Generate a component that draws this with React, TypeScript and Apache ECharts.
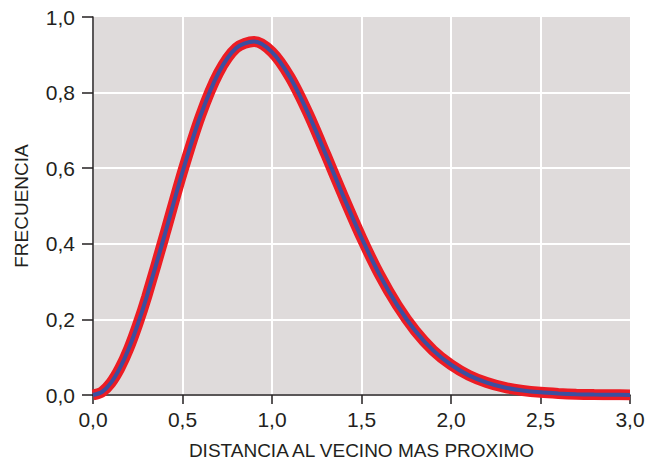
import React, { useEffect, useRef } from "react";
import * as echarts from "echarts";

const xValues = [
  0.0, 0.05, 0.1, 0.15, 0.2, 0.25, 0.3, 0.4, 0.5, 0.6, 0.7, 0.8, 0.9, 1.0,
  1.1, 1.2, 1.3, 1.4, 1.5, 1.6, 1.7, 1.8, 1.9, 2.0,
  2.1, 2.2, 2.3, 2.4, 2.5, 2.6, 2.7, 2.8, 2.9, 3.0,
];
const frecuencia = [
  0.0, 0.008, 0.032, 0.071, 0.123, 0.187, 0.26, 0.423, 0.59, 0.738, 0.851, 0.918, 0.935, 0.907,
  0.841, 0.747, 0.637, 0.524, 0.416, 0.319, 0.237, 0.17, 0.118, 0.08,
  0.052, 0.033, 0.02, 0.012, 0.007, 0.004, 0.002, 0.001, 0.0005, 0.0003,
];
const xTicks = ["0,0", "0,5", "1,0", "1,5", "2,0", "2,5", "3,0"];
const yTicks = ["0,0", "0,2", "0,4", "0,6", "0,8", "1,0"];

const FONT = "'Liberation Sans', Arial, Helvetica, sans-serif";

export default function App() {
  const ref = useRef<HTMLDivElement>(null);
  useEffect(() => {
    if (!ref.current) return;
    const chart = echarts.init(ref.current, null, { renderer: "svg" });
    const pts = xValues.map((x, i) => [x, frecuencia[i]]);
    chart.setOption({
      animation: false,
      grid: {
        left: 93,
        top: 17,
        right: 21,
        bottom: 69,
        show: true,
        backgroundColor: "#dfdbdb",
        borderWidth: 0,
      },
      xAxis: {
        type: "value",
        min: 0,
        max: 3,
        interval: 0.5,
        name: "DISTANCIA AL VECINO MAS PROXIMO",
        nameLocation: "middle",
        nameGap: 46,
        nameTextStyle: { fontFamily: FONT, fontSize: 19, color: "#231f20" },
        axisLine: { show: true, lineStyle: { color: "#231f20", width: 1.5 } },
        axisTick: { show: true, length: 9, lineStyle: { color: "#231f20", width: 1.5 } },
        axisLabel: {
          fontFamily: FONT,
          fontSize: 21,
          color: "#231f20",
          margin: 14,
          formatter: (v: number) => xTicks[Math.round(v * 2)] ?? "",
        },
        splitLine: { show: true, showMaxLine: false, lineStyle: { color: "#ffffff", width: 2 } },
      },
      yAxis: {
        type: "value",
        min: 0,
        max: 1,
        interval: 0.2,
        name: "FRECUENCIA",
        nameLocation: "middle",
        nameRotate: 90,
        nameGap: 62,
        nameTextStyle: { fontFamily: FONT, fontSize: 19, color: "#231f20" },
        axisLine: { show: true, lineStyle: { color: "#231f20", width: 1.5 } },
        axisTick: { show: true, length: 11, lineStyle: { color: "#231f20", width: 1.5 } },
        axisLabel: {
          fontFamily: FONT,
          fontSize: 21,
          color: "#231f20",
          margin: 18,
          formatter: (v: number) => yTicks[Math.round(v * 5)] ?? "",
        },
        splitLine: { show: true, showMaxLine: false, lineStyle: { color: "#ffffff", width: 2 } },
      },
      series: [
        {
          type: "line",
          data: pts,
          smooth: 0.3,
          showSymbol: false,
          lineStyle: { color: "#ec1c24", width: 11 },
          z: 2,
        },
        {
          type: "line",
          data: pts,
          smooth: 0.3,
          showSymbol: false,
          lineStyle: { color: "#3b4fa0", width: 4 },
          z: 3,
        },
      ],
    });
    return () => chart.dispose();
  }, []);
  return <div ref={ref} style={{ width: 651, height: 465, position: "absolute", left: 0, top: 0 }} />;
}
